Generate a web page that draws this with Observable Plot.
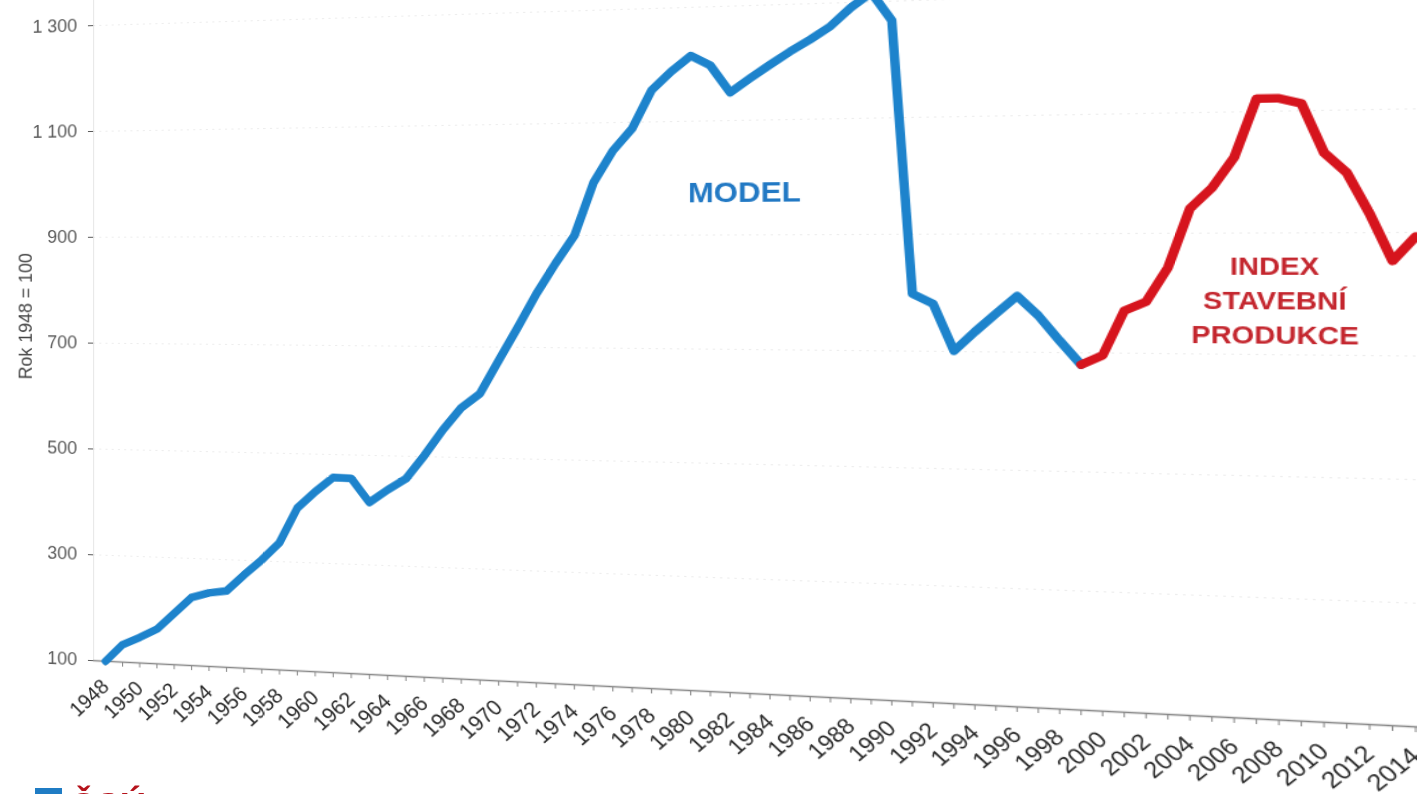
<!DOCTYPE html>
<html><head><meta charset="utf-8">
<script src="https://cdn.jsdelivr.net/npm/d3@7"></script>
<script src="https://cdn.jsdelivr.net/npm/@observablehq/plot@0.6"></script>
<style>
html,body{margin:0;padding:0;background:#fff;overflow:hidden;width:1417px;height:794px;}
#chart{position:absolute;left:0;top:0;}
#chart svg{display:block;transform-origin:0 0;}
.logo{position:absolute;left:35px;top:788px;width:27px;height:20px;background:#1f7cc4;}
.logotext{position:absolute;left:70px;top:789px;font:bold 36px/1 "Liberation Sans",Arial,sans-serif;color:#b5121b;}
</style></head><body>
<div id="chart"></div>
<div class="logo"></div><div class="logotext">ČSÚ</div>
<script>
// ---- data ----
const modelYears = d3.range(1948, 2000);
const modelValues = [100,133,148,165,196,227,237,242,273,302,
  335,400,431,458,457,414,438,459,502,549,
  590,616,676,735,796,850,900,994,1050,1089,
  1156,1188,1215,1197,1149,1173,1196,1218,1238,1260,
  1291,1316,1267,798,781,701,734,765,795,762,
  720,680];
const indexYears = d3.range(1999, 2015);
const indexValues = [680,696,771,786,843,941,975,1025,1121,1121,1112,1031,998,931,854,893];
const yTicks = [100,300,500,700,900,1100,1300];
const xTickYears = d3.range(1948, 2015);
const xLabelYears = d3.range(1948, 2015, 2);
const yAxisLabel = "Rok 1948 = 100";
const modelLabel = ["MODEL"];
const modelLabelYear = [1982.7], modelLabelValue = [974];
const indexLabel = ["INDEX\nSTAVEBNÍ\nPRODUKCE"];
const indexLabelYear = [2007.8], indexLabelValue = [792];

const blue = "#1d83cc", red = "#d6141d";
const model = modelYears.map((year, i) => ({year, value: modelValues[i]}));
const index = indexYears.map((year, i) => ({year, value: indexValues[i]}));
const czFormat = d3.formatLocale({decimal: ",", thousands: "\u00a0", grouping: [3], currency: ["", ""]}).format(",d");
const font = '"Liberation Sans", Arial, sans-serif';
const xDomain = [1947.3, 2015];

const chart = Plot.plot({
  width: 1417, height: 790,
  marginLeft: 93, marginRight: 208, marginTop: 10, marginBottom: 91,
  style: {fontFamily: font, fontSize: "17.5px", background: "transparent", overflow: "visible"},
  x: {domain: xDomain},
  y: {domain: [100, 1400]},
  marks: [
    Plot.gridY(yTicks.filter(d => d > 100), {stroke: "#ccc", strokeOpacity: 0.35, strokeDasharray: "2,4"}),
    Plot.ruleX([xDomain[0]], {y1: 100, y2: 1400, stroke: "#e6e6e6"}),
    Plot.axisY(yTicks, {tickFormat: czFormat, tickSize: 5, tickPadding: 11, fontSize: 17.5, color: "#595959", label: null}),
    Plot.text([yAxisLabel], {frameAnchor: "left", textAnchor: "middle", rotate: -90, dx: -66, fontSize: 18, fill: "#444"}),
    Plot.axisX(xTickYears, {tickFormat: d => xLabelYears.includes(d) ? String(d) : "", tickRotate: -45, tickSize: 5, tickPadding: 17, fontSize: 20, color: "#2a2a2a", stroke: "#888", label: null}),
    Plot.ruleY([100], {stroke: "#888", strokeWidth: 1.3}),
    Plot.line(model, {x: "year", y: "value", stroke: blue, strokeWidth: 7.5, strokeLinejoin: "round", strokeLinecap: "round"}),
    Plot.line(index, {x: "year", y: "value", stroke: red, strokeWidth: 7.5, strokeLinejoin: "round", strokeLinecap: "round"}),
    Plot.text(modelLabel, {x: modelLabelYear, y: modelLabelValue, fill: "#2279c4", fontSize: 26, fontWeight: "bold"}),
    Plot.text(indexLabel, {x: indexLabelYear, y: indexLabelValue, fill: "#c4262e", fontSize: 21.5, fontWeight: "bold", lineHeight: 1.4})
  ]
});
document.getElementById("chart").appendChild(chart);

// perspective: map the flat plot frame onto the slanted frame of the reference
function solveHomography(src, dst) {
  const A = [], b = [];
  for (let i = 0; i < 4; i++) {
    const [x, y] = src[i], [X, Y] = dst[i];
    A.push([x, y, 1, 0, 0, 0, -x * X, -y * X]); b.push(X);
    A.push([0, 0, 0, x, y, 1, -x * Y, -y * Y]); b.push(Y);
  }
  const n = 8;
  for (let i = 0; i < n; i++) {
    let p = i;
    for (let r = i + 1; r < n; r++) if (Math.abs(A[r][i]) > Math.abs(A[p][i])) p = r;
    [A[i], A[p]] = [A[p], A[i]]; [b[i], b[p]] = [b[p], b[i]];
    for (let r = 0; r < n; r++) {
      if (r === i) continue;
      const f = A[r][i] / A[i][i];
      for (let c = i; c < n; c++) A[r][c] -= f * A[i][c];
      b[r] -= f * b[i];
    }
  }
  return b.map((v, i) => v / A[i][i]);
}
const sx = chart.scale("x"), sy = chart.scale("y");
const src = [[sx.apply(1948), sy.apply(100)], [sx.apply(2014), sy.apply(100)], [sx.apply(1948), sy.apply(1300)], [sx.apply(2014), sy.apply(1300)]];
const dst = [[105, 660.75], [1415, 726.25], [105, 24.75], [1415, -15.35]];
const h = solveHomography(src, dst);
chart.style.transform = `matrix3d(${h[0]},${h[3]},0,${h[6]},${h[1]},${h[4]},0,${h[7]},0,0,1,0,${h[2]},${h[5]},0,1)`;
chart.style.width = "1417px"; chart.style.height = "790px"; chart.style.maxWidth = "none";
</script>
</body></html>
